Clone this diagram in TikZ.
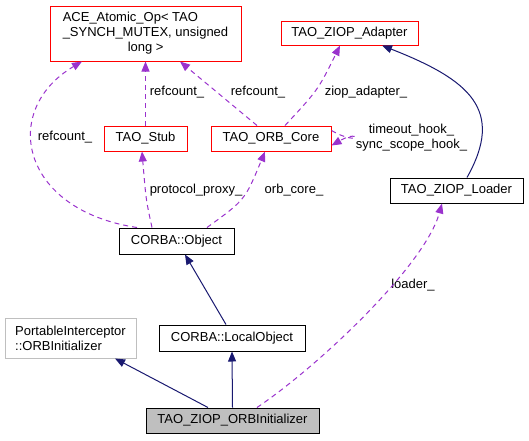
\documentclass[tikz,border=0pt]{standalone}
\usepackage{fontspec}
\setmainfont{Liberation Sans}
\usetikzlibrary{arrows.meta}
\definecolor{basenavy}{HTML}{191970}
\definecolor{usepurple}{HTML}{9A32CD}
\definecolor{boxgray}{HTML}{BFBFBF}

\begin{document}
\begin{tikzpicture}[x=1pt, y=-1pt, font=\fontsize{13}{15}\selectfont,
    classbox/.style={draw=black, line width=1pt, inner sep=0pt},
    refbox/.style={draw=red, line width=1pt, inner sep=0pt},
    extbox/.style={draw=boxgray, line width=1pt, inner sep=0pt},
    inherit/.style={draw=basenavy, line width=1pt, -{Triangle[length=10pt,width=8pt]}},
    usage/.style={draw=usepurple, line width=1pt, dash pattern=on 5pt off 4pt,
        -{Triangle[length=10pt,width=8pt]}},
    lbl/.style={inner sep=0pt}]
        \useasboundingbox (0,0) rectangle (529,440);

        % Top row
        \node[refbox, minimum width=191pt, minimum height=55pt, align=left] (ace) at (145.5,33.5)
            {ACE\_Atomic\_Op< TAO\\\_SYNCH\_MUTEX, unsigned\\\hspace*{65pt}long >};
        \node[refbox, minimum width=137pt, minimum height=24pt] (adapter) at (349.5,33) {TAO\_ZIOP\_Adapter};

        % Members
        \node[refbox, minimum width=83pt, minimum height=25pt] (stub) at (145.5,138.5) {TAO\_Stub};
        \node[refbox, minimum width=120pt, minimum height=25pt] (core) at (271,138.5) {TAO\_ORB\_Core};
        \node[classbox, minimum width=133pt, minimum height=25pt] (loader) at (456.5,190.5) {TAO\_ZIOP\_Loader};

        % Bases and class
        \node[classbox, minimum width=115pt, minimum height=26pt] (object) at (176.5,241) {CORBA::Object};
        \node[extbox, minimum width=131pt, minimum height=40pt, align=left] (initbase) at (70.5,338)
            {PortableInterceptor\\::ORBInitializer};
        \node[classbox, minimum width=146pt, minimum height=26pt] (localobj) at (232,338) {CORBA::LocalObject};
        \node[classbox, fill=boxgray, minimum width=173pt, minimum height=25pt] (ziopinit) at (232.5,420.5)
            {TAO\_ZIOP\_ORBInitializer};

        % Labels
        \node[lbl] (l_ref1) at (65,137) {refcount\_};
        \node[lbl] (l_ref2) at (177,92) {refcount\_};
        \node[lbl] (l_ref3) at (258,92) {refcount\_};
        \node[lbl] (l_adapter) at (366,92) {ziop\_adapter\_};
        \node[lbl, align=center] (l_hook) at (411.5,138) {timeout\_hook\_\\sync\_scope\_hook\_};
        \node[lbl] (l_proxy) at (196,190) {protocol\_proxy\_};
        \node[lbl] (l_core) at (294,190) {orb\_core\_};
        \node[lbl] (l_loader) at (413,285) {loader\_};

        % Inheritance
        \draw[inherit] ([xshift=-24.5pt]ziopinit.north) -- ([xshift=44.5pt]initbase.south);
        \draw[inherit] (ziopinit.north) -- (localobj.south);
        \draw[inherit] ([xshift=-6pt]localobj.north) -- ([xshift=8.5pt]object.south);
        \draw[inherit] ([xshift=10.5pt]loader.north) .. controls (505,110) and (470,80) .. ([xshift=32.5pt]adapter.south);

        % Members
        \draw[usage] ([xshift=-39.5pt]object.north) .. controls (20,210) and (0,110) .. ([xshift=-63.5pt]ace.south);
        \draw[usage] ([xshift=-24.5pt]object.north) .. controls (146,200) .. ([xshift=-3.5pt]stub.south);
        \draw[usage] ([xshift=30.5pt]object.north) .. controls (245,200) .. ([xshift=-6pt]core.south);
        \draw[usage] (stub.north) -- (ace.south);
        \draw[usage] ([xshift=-14pt]core.north) -- ([xshift=34.5pt]ace.south);
        \draw[usage] ([xshift=14pt]core.north) .. controls (318,90) .. ([xshift=-9.5pt]adapter.south);
        \draw[usage] ([yshift=8pt]core.east) .. controls (362,148) and (362,128) .. ([yshift=-7pt]core.east);
        \draw[usage] ([xshift=24.5pt]ziopinit.north) .. controls (320,365) and (425,265) .. ([xshift=-14.5pt]loader.south);
\end{tikzpicture}
\end{document}
